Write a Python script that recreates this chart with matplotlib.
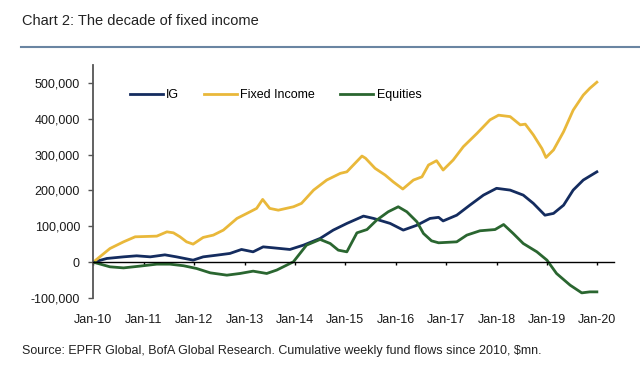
import matplotlib
matplotlib.use('Agg')
import matplotlib.pyplot as plt
from matplotlib.lines import Line2D
import numpy as np

plt.rcParams['font.family'] = ['Liberation Sans', 'DejaVu Sans']

# cumulative weekly fund flows since 2010, $mn (x in decimal years)
fi_t = [2010.0, 2010.33, 2010.6, 2010.83, 2011.26, 2011.46, 2011.59, 2011.72, 2011.85, 2011.98,
        2012.18, 2012.38, 2012.58, 2012.85, 2013.11, 2013.24, 2013.36, 2013.5, 2013.67, 2013.97,
        2014.13, 2014.37, 2014.63, 2014.9, 2015.03, 2015.33, 2015.4, 2015.59, 2015.79, 2015.95,
        2016.14, 2016.35, 2016.52, 2016.65, 2016.81, 2016.94, 2017.14, 2017.34, 2017.61, 2017.87,
        2018.04, 2018.27, 2018.47, 2018.57, 2018.73, 2018.9, 2018.98, 2019.13, 2019.33, 2019.52,
        2019.72, 2019.85, 2019.99]
fi_v = [0, 38000, 56700, 70700, 72600, 84600, 81800, 70700, 56700, 50300,
        69000, 75400, 89400, 122000, 140500, 150000, 175000, 150000, 145000, 154500,
        164000, 201000, 229000, 247700, 252000, 296000, 290000, 261700, 243000, 224000,
        204000, 229000, 238000, 271000, 283000, 257000, 285000, 322000, 359000, 397000,
        410000, 406000, 383000, 385000, 355000, 317000, 292000, 313000, 364000, 424000,
        466000, 485000, 502000]

ig_t = [2010.0, 2010.27, 2010.6, 2010.86, 2011.13, 2011.42, 2011.65, 2011.98, 2012.18, 2012.45,
        2012.71, 2012.94, 2013.17, 2013.37, 2013.57, 2013.9, 2014.17, 2014.5, 2014.76, 2015.03,
        2015.36, 2015.56, 2015.89, 2016.15, 2016.42, 2016.68, 2016.85, 2016.94, 2017.21, 2017.47,
        2017.74, 2018.0, 2018.27, 2018.53, 2018.73, 2018.96, 2019.13, 2019.33, 2019.52, 2019.72,
        2019.99]
ig_v = [0, 10300, 14800, 17700, 14800, 20400, 14800, 5600, 14800, 19500,
        24300, 35400, 28800, 42700, 40000, 35400, 47500, 66200, 89400, 108000,
        128500, 122000, 108000, 89400, 103000, 122000, 125000, 115000, 131000, 159000,
        187000, 206000, 201000, 187000, 164000, 131000, 136000, 159000, 201000, 229000,
        252000]

eq_t = [2010.0, 2010.33, 2010.6, 2010.93, 2011.26, 2011.52, 2011.79, 2012.05, 2012.32, 2012.65,
        2012.91, 2013.17, 2013.44, 2013.64, 2013.97, 2014.23, 2014.5, 2014.7, 2014.86, 2015.03,
        2015.23, 2015.43, 2015.62, 2015.85, 2016.05, 2016.22, 2016.42, 2016.55, 2016.71, 2016.85,
        2017.21, 2017.41, 2017.67, 2017.97, 2018.14, 2018.33, 2018.53, 2018.8, 2019.0, 2019.19,
        2019.46, 2019.69, 2019.85, 2019.99]
eq_v = [0, -13000, -16000, -11000, -5600, -5600, -10000, -17700, -29800, -36300,
        -31600, -25100, -31600, -22000, 1000, 47500, 63400, 52000, 33500, 28800,
        81800, 91000, 117000, 140500, 154500, 140500, 112600, 80000, 59500, 54000,
        56700, 75400, 87500, 91000, 105000, 80000, 52000, 28800, 5600, -31600,
        -64200, -85700, -82900, -82900]

years = list(range(2010, 2021))
year_labels = ['Jan-%02d' % (y % 100) for y in years]
y_ticks = [-100000, 0, 100000, 200000, 300000, 400000, 500000]

fig = plt.figure(figsize=(6.4, 3.69), dpi=100)
ax = fig.add_axes([93.3 / 640, 71 / 369, 520.7 / 640, 233 / 369])

ax.plot(ig_t, ig_v, color='#142c5f', lw=2.0, label='IG')
ax.plot(fi_t, fi_v, color='#e9b83a', lw=2.0, label='Fixed Income')
ax.plot(eq_t, eq_v, color='#2a6630', lw=2.0, label='Equities')

ax.set_xlim(2010, 2020.33)
ax.set_ylim(-100000, 550000)

ax.spines['top'].set_visible(False)
ax.spines['right'].set_visible(False)
ax.spines['left'].set_color('#555555')
ax.spines['left'].set_linewidth(1.3)
ax.spines['bottom'].set_position(('data', 0))
ax.spines['bottom'].set_color('black')
ax.spines['bottom'].set_linewidth(1.0)

ax.set_yticks(y_ticks)
ax.set_yticklabels(['{:,}'.format(v) for v in y_ticks])
ax.set_xticks(years)
ax.set_xticklabels(year_labels)
ax.tick_params(axis='y', direction='out', length=3.6, width=1, color='#555555',
               labelsize=9, pad=6, labelcolor='#1a1a1a')
ax.tick_params(axis='x', direction='out', length=2.5, width=1, color='black',
               labelsize=9, pad=35, labelcolor='#1a1a1a')

fig.legend(loc='center left', bbox_to_anchor=(130 / 640, 1 - 95 / 369), ncol=3,
           frameon=False, fontsize=9, handlelength=2.6, handletextpad=0.3,
           columnspacing=2.0, borderpad=0, borderaxespad=0)

fig.text(22 / 640, 1 - 21 / 369, 'Chart 2: The decade of fixed income', fontsize=10.5,
         va='center', ha='left', color='#222222')
fig.add_artist(Line2D([20.7 / 640, 1.0], [1 - 46.7 / 369, 1 - 46.7 / 369],
                      transform=fig.transFigure, color='#6a85a2', lw=1.5))
fig.text(21.7 / 640, 1 - 350.7 / 369,
         'Source: EPFR Global, BofA Global Research. Cumulative weekly fund flows since 2010, $mn.',
         fontsize=9, va='center', ha='left', color='#222222')

fig.savefig('out.png', dpi=100)
